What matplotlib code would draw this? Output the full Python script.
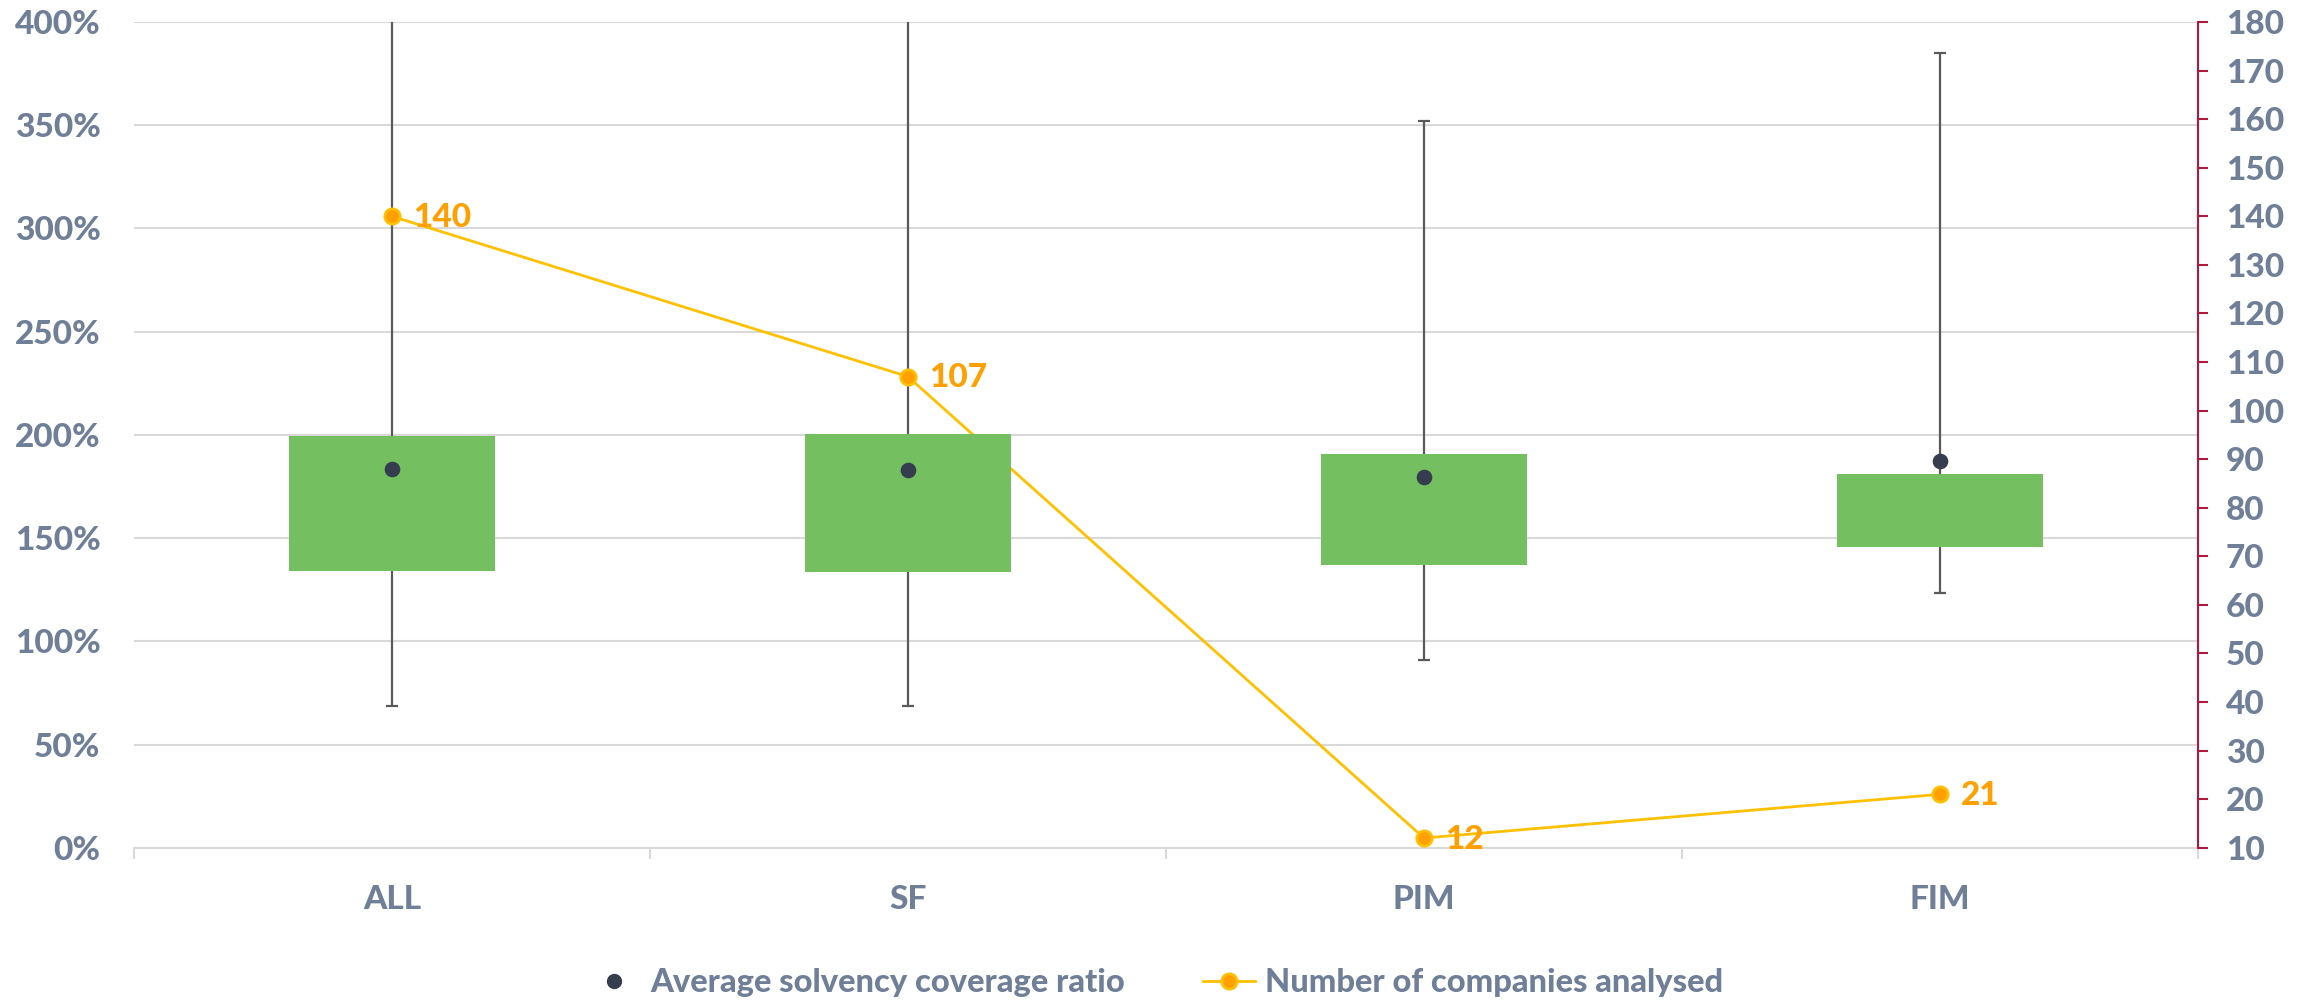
import matplotlib
matplotlib.use("Agg")
import matplotlib.pyplot as plt
from matplotlib.lines import Line2D
from matplotlib.ticker import FuncFormatter, MultipleLocator, FixedLocator

# Solvency coverage ratio distribution by calculation method
categories = ["ALL", "SF", "PIM", "FIM"]
whisker_low = [68.8, 68.8, 91.1, 123.3]      # %
box_low = [134.1, 133.6, 137.0, 145.8]       # %
box_high = [199.6, 200.4, 190.6, 181.2]      # %
whisker_high = [430.0, 430.0, 351.9, 384.9]  # %
mean_ratio = [183.3, 183.0, 179.5, 187.2]    # %
companies = [140, 107, 12, 21]

FONT = ["Lato", "DejaVu Sans"]
WEIGHT = 900
GREY_TXT = "#6F7F98"
GRID = "#D9D9D9"
GREEN = "#74BF60"
DARK = "#363D4F"
WHISK = "#5A5A5A"
GOLD = "#FFC000"
ORANGE = "#FFA000"
CRIMSON = "#B0193F"
FS = 24

plt.rcParams["font.family"] = FONT
plt.rcParams["font.weight"] = WEIGHT

fig = plt.figure(figsize=(23.02, 10.01), dpi=100)
ax = fig.add_axes([0.0582, 0.1531, 0.8966, 0.8249])
ax2 = ax.twinx()

x = list(range(len(categories)))

ax.set_xlim(-0.5, 3.5)
ax.set_ylim(0, 400)
ax2.set_ylim(10, 180)

# grid
ax.yaxis.set_major_locator(MultipleLocator(50))
ax.grid(axis="y", color=GRID, linewidth=1.5, zorder=0)
ax.set_axisbelow(True)

# whiskers
ax.errorbar(x, [(l + h) / 2 for l, h in zip(whisker_low, whisker_high)],
            yerr=[[(h - l) / 2 for l, h in zip(whisker_low, whisker_high)],
                  [(h - l) / 2 for l, h in zip(whisker_low, whisker_high)]],
            fmt="none", ecolor=WHISK, elinewidth=1.6, capsize=4.3,
            capthick=1.6, zorder=2)

# number of companies (right scale), drawn beneath the boxes
ax.plot(x, companies, transform=ax2.transData, color=GOLD, linewidth=2,
        marker="o", markersize=11, markerfacecolor=ORANGE,
        markeredgecolor=GOLD, markeredgewidth=2, zorder=3, clip_on=False)

# interquartile boxes
ax.bar(x, [h - l for l, h in zip(box_low, box_high)], bottom=box_low,
       width=0.4, color=GREEN, edgecolor="none", zorder=4)

# averages
ax.scatter(x, mean_ratio, s=105, color=DARK, zorder=5)

for xi, n in zip(x, companies):
    ax2.annotate(str(n), (xi, n), xytext=(15, -1), textcoords="offset points",
                 ha="left", va="center", color=ORANGE, fontsize=FS,
                 fontweight=WEIGHT, family=FONT)

# left axis
ax.yaxis.set_major_formatter(FuncFormatter(lambda v, p: f"{v:.0f}%"))
ax.tick_params(axis="y", length=0, pad=24, labelsize=FS, labelcolor=GREY_TXT)
for s in ["left", "top", "right"]:
    ax.spines[s].set_visible(False)
ax.spines["bottom"].set_color(GRID)
ax.spines["bottom"].set_linewidth(1.5)

# categories
ax.set_xticks(x)
ax.set_xticklabels(categories)
ax.xaxis.set_minor_locator(FixedLocator([-0.5, 0.5, 1.5, 2.5, 3.5]))
ax.tick_params(axis="x", which="major", length=0, pad=27, labelsize=FS,
               labelcolor=GREY_TXT)
ax.tick_params(axis="x", which="minor", length=8, width=1.5, color=GRID)

# right axis
ax2.yaxis.set_major_locator(MultipleLocator(10))
ax2.tick_params(axis="y", length=7, width=1.5, color=CRIMSON, pad=13,
                labelsize=FS, labelcolor=GREY_TXT)
for s in ["left", "top", "bottom"]:
    ax2.spines[s].set_visible(False)
ax2.spines["right"].set_color(CRIMSON)
ax2.spines["right"].set_linewidth(1.5)

for lab in ax.get_xticklabels() + ax.get_yticklabels() + ax2.get_yticklabels():
    lab.set_fontweight(WEIGHT)

handles = [
    Line2D([], [], linestyle="none", marker="o", markersize=10, color=DARK),
    Line2D([], [], color=GOLD, linewidth=2, marker="o", markersize=11,
           markerfacecolor=ORANGE, markeredgecolor=GOLD, markeredgewidth=2),
]
fig.legend(handles, ["Average solvency coverage ratio",
                     "Number of companies analysed"],
           loc="center", bbox_to_anchor=(0.502, 0.018), ncol=2, frameon=False,
           prop={"family": FONT, "weight": WEIGHT, "size": 23.5},
           labelcolor=GREY_TXT, columnspacing=2.4, handlelength=1.6,
           handletextpad=0.3)

fig.savefig("out.png", dpi=100, facecolor="white")
